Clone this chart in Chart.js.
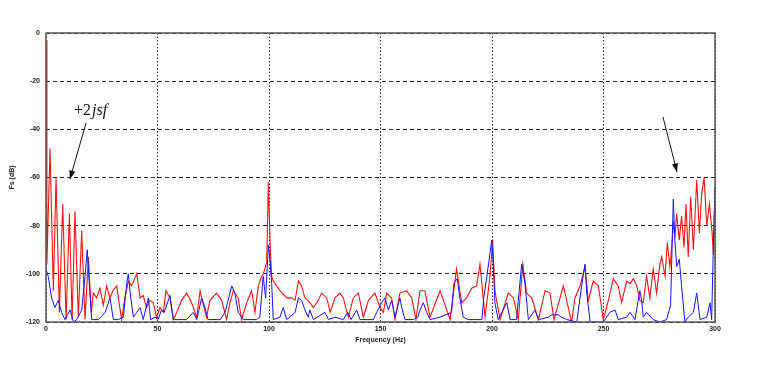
<!DOCTYPE html>
<html>
<head>
<meta charset="utf-8">
<script src="https://cdn.jsdelivr.net/npm/chart.js@4/dist/chart.umd.min.js"></script>
<style>
  html, body { margin: 0; padding: 0; background: #fff; }
  canvas { display: block; }
</style>
</head>
<body>
<canvas id="spectrum" width="759" height="365"></canvas>
<script>
// data (Hz / dB)
const redHz = [0, 0.4, 1.8, 3.3, 4.5, 6.0, 7.5, 9.0, 10.5, 11.7, 13.0, 14.5, 16.0, 17.5, 19.0, 20.3,
  21.2, 22.7, 24.2, 25.7, 27.2, 28.7, 30.0, 31.7, 33.9, 35.4, 36.9, 38.4, 40.7, 42.2, 43.6, 45.1,
  46.6, 48.1, 49.6, 51.1, 52.6, 53.8, 55.6, 57.1, 58.6, 60.8, 63.1, 65.3, 67.6, 69.1, 69.8, 72.0,
  73.5, 76.5, 78.8, 81.0, 82.5, 84.0, 86.2, 87.7, 90.0, 92.2, 93.7, 95.2, 96.7, 97.5, 99.0, 99.7,
  100.6, 101.2, 101.9, 103.4, 104.9, 107.9, 110.2, 111.7, 113.2, 114.6, 116.1, 117.6, 119.9, 122.1,
  123.6, 125.9, 127.4, 129.6, 131.8, 133.3, 135.6, 137.8, 140.1, 142.3, 144.6, 147.5, 149.8, 151.3,
  152.8, 155.0, 156.5, 158.7, 161.7, 164.0, 165.9, 167.7, 169.9, 172.2, 176.7, 181.2, 184.1, 186.4,
  188.6, 190.9, 193.1, 194.6, 196.9, 199.1, 200.3, 201.3, 203.6, 207.3, 209.6, 211.8, 213.8, 215.5,
  217.8, 220.8, 223.8, 226.0, 227.8, 232.0, 234.2, 235.7, 237.2, 239.5, 241.7, 243.2, 245.4, 247.7,
  249.9, 252.2, 254.4, 256.6, 258.1, 260.4, 261.9, 263.4, 264.9, 266.3, 267.8, 269.3, 270.8, 272.3,
  273.8, 275.3, 276.1, 277.6, 278.6, 279.8, 280.6, 281.3, 282.0, 282.8, 284.0, 285.0, 286.1, 287.0,
  288.0, 289.1, 290.3, 291.8, 293.0, 294.0, 295.1, 296.3, 297.5, 298.7, 299.3, 300]
const redDb = [-3, -96, -48, -107, -60, -116, -71, -119, -75, -119, -74, -118, -82, -119, -93, -116,
  -108, -110, -106, -113, -105, -110, -107, -105, -119, -110, -103, -105, -100, -110, -109, -114,
  -111, -112, -118, -114, -116, -107, -110, -119, -116, -111, -108, -112, -118, -107, -110, -118,
  -111, -108, -111, -119, -112, -107, -110, -119, -112, -107, -116, -105, -101, -100, -95, -62,
  -90, -101, -103, -105, -107, -110, -110, -111, -103, -105, -110, -111, -114, -111,
  -108, -110, -116, -110, -108, -110, -118, -110, -108, -118, -111, -108, -114, -116,
  -108, -110, -119, -108, -107, -110, -119, -107, -107, -118, -107, -119, -98, -112,
  -110, -106, -105, -96, -118, -101, -86, -107, -119, -108, -110, -119, -96, -108,
  -110, -119, -107, -108, -119, -105, -114, -120, -110, -105, -97, -111, -103, -105,
  -119, -111, -102, -105, -112, -103, -104, -102, -105, -111, -112, -101, -110, -98,
  -108, -96, -93, -101, -87, -97, -89, -78, -85, -75, -86, -76, -89, -71,
  -93, -68, -90, -61, -83, -67, -60, -80, -71, -83, -92, -64]

const blueHz = [0, 1.0, 2.5, 4.0, 5.5, 7.0, 8.5, 10.8, 12.3, 13.8, 16.0, 17.5, 18.5, 19.4, 20.5, 23.5,
  26.5, 28.7, 30.2, 32.4, 34.7, 36.2, 36.9, 38.0, 39.2, 40.7, 42.2, 43.6, 45.9, 46.9, 48.9, 50.3,
  51.8, 53.0, 55.6, 57.1, 63.1, 66.0, 67.6, 69.8, 71.3, 72.7, 78.1, 80.3, 83.3, 84.7, 86.2, 88.5,
  94.4, 95.9, 97.4, 98.5, 99.7, 100.5, 101.2, 101.9, 104.9, 106.4, 107.9, 111.7, 113.2, 114.6,
  116.1, 117.6, 118.3, 119.9, 125.1, 126.6, 129.6, 133.3, 135.3, 136.8, 139.3, 140.8, 146.8, 148.3,
  150.5, 152.0, 153.5, 155.0, 156.5, 158.7, 159.5, 161.0, 164.7, 166.7, 167.7, 169.2, 170.7, 172.2,
  176.7, 181.9, 182.9, 184.4, 185.6, 187.1, 189.3, 195.5, 196.3, 197.4, 199.9, 200.6, 201.3, 202.8,
  206.6, 208.1, 211.0, 213.3, 214.8, 216.3, 219.3, 220.8, 225.3, 226.8, 229.7, 231.2, 233.5, 238.0,
  240.2, 241.7, 242.5, 244.0, 249.9, 251.4, 252.9, 255.2, 256.6, 260.4, 261.9, 264.1, 266.3, 267.1,
  267.8, 269.3, 272.3, 275.3, 278.3, 280.1, 281.3, 282.0, 282.8, 284.0, 285.0, 286.5, 288.0, 290.3,
  291.8, 293.3, 296.3, 297.8, 298.5, 299.3, 300]
const blueDb = [-98, -101, -110, -114, -111, -116, -119, -115, -120, -119, -115, -101, -90, -104, -119, -119,
  -116, -110, -119, -119, -118, -104, -100, -110, -118, -116, -114, -119, -110, -119, -118, -119,
  -115, -116, -109, -119, -119, -116, -119, -110, -114, -119, -119, -116, -105, -108, -116, -119,
  -119, -118, -101, -110, -88, -95, -104, -119, -118, -114, -119, -116, -110, -111,
  -115, -118, -115, -119, -116, -119, -118, -119, -116, -119, -115, -119, -119, -116,
  -112, -110, -115, -111, -118, -110, -114, -119, -119, -118, -115, -112, -116, -119,
  -118, -116, -104, -102, -110, -118, -119, -119, -110, -103, -86, -96, -112, -119,
  -112, -119, -119, -96, -104, -119, -115, -119, -118, -117, -117, -118, -119, -120,
  -105, -96, -108, -120, -120, -118, -116, -115, -119, -118, -116, -119, -107, -111,
  -118, -116, -119, -120, -119, -113, -69, -86, -97, -94, -105, -120, -118, -116,
  -108, -119, -118, -112, -119, -87, -64]

const xTicks = [0, 50, 100, 150, 200, 250, 300]
const yTicks = [0, -20, -40, -60, -80, -100, -120]

const toPoints = (xs, ys) => xs.map((x, i) => ({ x: x, y: ys[i] }))

// frame + arrows + "+2jsf" label
const decorations = {
  id: 'decorations',
  afterDraw(chart) {
    const ctx = chart.ctx
    const a = chart.chartArea
    ctx.save()
    ctx.setLineDash([])
    ctx.strokeStyle = '#555'
    ctx.lineWidth = 1.5
    ctx.strokeRect(a.left, a.top, a.right - a.left, a.bottom - a.top)

    const arrow = (x1, y1, x2, y2) => {
      ctx.strokeStyle = '#111'
      ctx.fillStyle = '#111'
      ctx.lineWidth = 1
      ctx.beginPath()
      ctx.moveTo(x1, y1)
      ctx.lineTo(x2, y2)
      ctx.stroke()
      const ang = Math.atan2(y2 - y1, x2 - x1)
      ctx.beginPath()
      ctx.moveTo(x2, y2)
      ctx.lineTo(x2 - 9 * Math.cos(ang - 0.35), y2 - 9 * Math.sin(ang - 0.35))
      ctx.lineTo(x2 - 9 * Math.cos(ang + 0.35), y2 - 9 * Math.sin(ang + 0.35))
      ctx.closePath()
      ctx.fill()
    }
    arrow(86, 123, 70, 179)
    arrow(663, 117, 677, 172)

    ctx.fillStyle = '#111'
    ctx.textBaseline = 'alphabetic'
    ctx.font = '16px "Liberation Serif"'
    ctx.fillText('+2', 74, 115)
    const w = ctx.measureText('+2').width
    ctx.font = 'italic 16px "Liberation Serif"'
    ctx.fillText('jsf', 74 + w + 1, 115)
    ctx.restore()
  }
}

const tickFont = { family: 'Liberation Sans', size: 7, weight: 'bold' }

new Chart(document.getElementById('spectrum'), {
  type: 'line',
  data: {
    datasets: [
      {
        label: 'blue',
        data: toPoints(blueHz, blueDb),
        borderColor: 'rgb(20, 20, 255)',
        borderWidth: 1,
        pointRadius: 0,
        tension: 0,
      },
      {
        label: 'red',
        data: toPoints(redHz, redDb),
        borderColor: 'rgb(255, 20, 20)',
        borderWidth: 1.1,
        pointRadius: 0,
        tension: 0,
      },
    ],
  },
  options: {
    responsive: false,
    animation: false,
    layout: { padding: { left: 8, top: 33, right: 44, bottom: 21 } },
    plugins: {
      legend: { display: false },
      tooltip: { enabled: false },
    },
    scales: {
      x: {
        type: 'linear',
        min: 0,
        max: 300,
        afterBuildTicks: (s) => { s.ticks = xTicks.map(v => ({ value: v })) },
        afterFit: (s) => { s.height = 22 },
        grid: { color: '#222', lineWidth: 1, drawTicks: false },
        border: { display: false, dash: [1.5, 2] },
        ticks: { color: '#222', font: tickFont, padding: 3, maxRotation: 0 },
        title: {
          display: true,
          text: 'Frequency (Hz)',
          color: '#222',
          font: tickFont,
          padding: { top: 0, bottom: 0 },
        },
      },
      y: {
        min: -120,
        max: 0,
        afterBuildTicks: (s) => { s.ticks = yTicks.map(v => ({ value: v })) },
        afterFit: (s) => { s.width = 38 },
        grid: { color: '#222', lineWidth: 1, drawTicks: false },
        border: { display: false, dash: [4, 3] },
        ticks: { color: '#222', font: tickFont, padding: 6 },
        title: {
          display: true,
          text: 'Fs (dB)',
          color: '#222',
          font: tickFont,
          padding: { top: 0, bottom: 4 },
        },
      },
    },
  },
  plugins: [decorations],
})
</script>
</body>
</html>
